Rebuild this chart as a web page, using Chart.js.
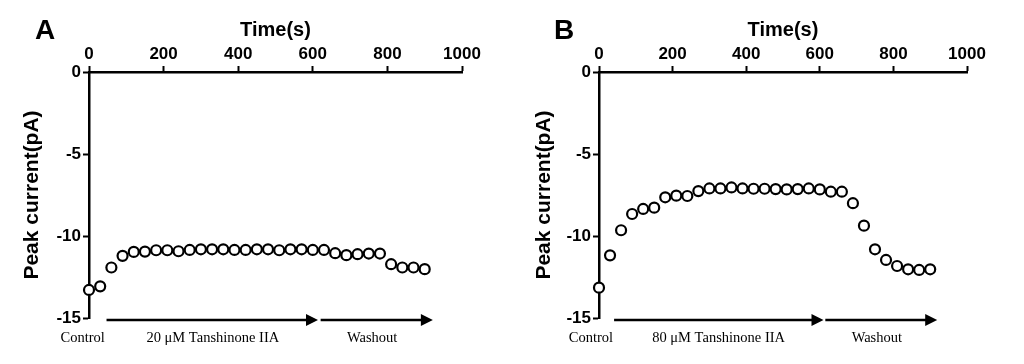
<!DOCTYPE html>
<html>
<head>
<meta charset="utf-8">
<script src="https://cdn.jsdelivr.net/npm/chart.js@4"></script>
<style>
  body { margin: 0; background: #fff; }
  .panel { position: absolute; top: 0; width: 512px; height: 364px; }
  .letter { position: absolute; font: bold 28px "Liberation Sans", Arial, sans-serif; color: #000; }
</style>
</head>
<body>
<div class="panel" style="left:0"><canvas id="chartA" width="512" height="364"></canvas></div>
<div class="panel" style="left:512px"><canvas id="chartB" width="512" height="364"></canvas></div>
<div class="letter" style="left:35px; top:14px">A</div>
<div class="letter" style="left:554px; top:14px">B</div>
<script>
// temps (s) de chaque mesure
const times = [0, 30, 60, 90, 120, 150, 180, 210, 240, 270, 300, 330, 360, 390, 420, 450,
  480, 510, 540, 570, 600, 630, 660, 690, 720, 750, 780, 810, 840, 870, 900];

// courant de pic (pA), panneau A : 20 µM
const currentA = [-13.29, -13.07, -11.92, -11.21, -10.97, -10.95, -10.87, -10.87, -10.93, -10.85,
  -10.81, -10.81, -10.81, -10.85, -10.85, -10.81, -10.81, -10.87, -10.81, -10.81, -10.85,
  -10.85, -11.05, -11.17, -11.11, -11.07, -11.07, -11.72, -11.92, -11.92, -12.02];

// panneau B : 80 µM
const currentB = [-13.15, -11.18, -9.65, -8.66, -8.35, -8.27, -7.64, -7.54, -7.56, -7.26,
  -7.1, -7.1, -7.04, -7.1, -7.12, -7.12, -7.14, -7.16, -7.14, -7.1, -7.16,
  -7.3, -7.3, -8.0, -9.37, -10.81, -11.46, -11.83, -12.03, -12.07, -12.03];

const xTicks = [0, 200, 400, 600, 800, 1000];
const yTicks = [-15, -10, -5, 0];

// fleches des phases (début, fin en s) et textes dessous
const phasesA = [[47, 614], [621, 922]];
const phasesB = [[41, 610], [615, 919]];
const phaseLabelsA = ['Control', '20 μM Tanshinone IIA', 'Washout'];
const phaseLabelsB = ['Control', '80 μM Tanshinone IIA', 'Washout'];
const labelTimesA = [-17, 332, 759];
const labelTimesB = [-22, 325, 755];

const sans = '"Liberation Sans", Arial, sans-serif';

const phasePlugin = {
  id: 'phases',
  afterDraw(chart, args, opts) {
    const ctx = chart.ctx;
    const sx = chart.scales.x;
    const y = chart.chartArea.bottom + 2;
    ctx.save();
    ctx.strokeStyle = '#000';
    ctx.fillStyle = '#000';
    ctx.lineWidth = 2.5;
    opts.phases.forEach(function(p) {
      const x0 = sx.getPixelForValue(p[0]);
      const x1 = sx.getPixelForValue(p[1]);
      ctx.beginPath();
      ctx.moveTo(x0, y);
      ctx.lineTo(x1 - 10, y);
      ctx.stroke();
      ctx.beginPath();
      ctx.moveTo(x1, y);
      ctx.lineTo(x1 - 12, y - 6);
      ctx.lineTo(x1 - 12, y + 6);
      ctx.closePath();
      ctx.fill();
    });
    ctx.font = '14.5px "Liberation Serif", "Times New Roman", serif';
    ctx.textAlign = 'center';
    ctx.textBaseline = 'middle';
    opts.labels.forEach(function(txt, i) {
      ctx.fillText(txt, sx.getPixelForValue(opts.times[i]), y + 18);
    });
    ctx.restore();
  }
};

function makeChart(id, values, phases, labels, labelTimes, yWidth, padRight) {
  const ctx = document.getElementById(id).getContext('2d');
  return new Chart(ctx, {
    type: 'scatter',
    data: {
      datasets: [{
        data: times.map(function(t, i) { return { x: t, y: values[i] }; }),
        pointRadius: 5,
        pointBorderWidth: 2.2,
        pointBorderColor: '#000',
        pointBackgroundColor: '#fff',
        clip: false
      }]
    },
    options: {
      responsive: false,
      animation: false,
      layout: { padding: { left: 0, top: 0, right: padRight, bottom: 46 } },
      plugins: {
        legend: { display: false },
        tooltip: { enabled: false },
        phases: { phases: phases, labels: labels, times: labelTimes }
      },
      scales: {
        x: {
          type: 'linear',
          position: 'top',
          min: 0,
          max: 1000,
          afterFit: function(s) { s.height = 72; },
          afterBuildTicks: function(s) { s.ticks = xTicks.map(function(v) { return { value: v }; }); },
          ticks: { color: '#000', font: { family: sans, size: 17, weight: 'bold' }, padding: 1, maxRotation: 0,
                   callback: function(v) { return String(v); } },
          grid: { drawOnChartArea: false, drawTicks: true, tickLength: 6, tickWidth: 2, tickColor: '#000' },
          border: { color: '#000', width: 2.5 },
          title: { display: true, text: 'Time(s)', color: '#000',
                   font: { family: sans, size: 20, weight: 'bold' }, padding: { top: 18, bottom: 0 } }
        },
        y: {
          type: 'linear',
          position: 'left',
          min: -15,
          max: 0,
          afterFit: function(s) { s.width = yWidth; },
          afterBuildTicks: function(s) { s.ticks = yTicks.map(function(v) { return { value: v }; }); },
          ticks: { color: '#000', font: { family: sans, size: 17, weight: 'bold' }, padding: 2 },
          grid: { drawOnChartArea: false, drawTicks: true, tickLength: 6, tickWidth: 2, tickColor: '#000' },
          border: { color: '#000', width: 2.5 },
          title: { display: true, text: 'Peak current(pA)', color: '#000',
                   font: { family: sans, size: 21, weight: 'bold' }, padding: { top: 20, bottom: 0 } }
        }
      }
    },
    plugins: [phasePlugin]
  });
}

document.addEventListener('DOMContentLoaded', function() {
  makeChart('chartA', currentA, phasesA, phaseLabelsA, labelTimesA, 89, 50);
  makeChart('chartB', currentB, phasesB, phaseLabelsB, labelTimesB, 87, 57);
});
</script>
</body>
</html>
